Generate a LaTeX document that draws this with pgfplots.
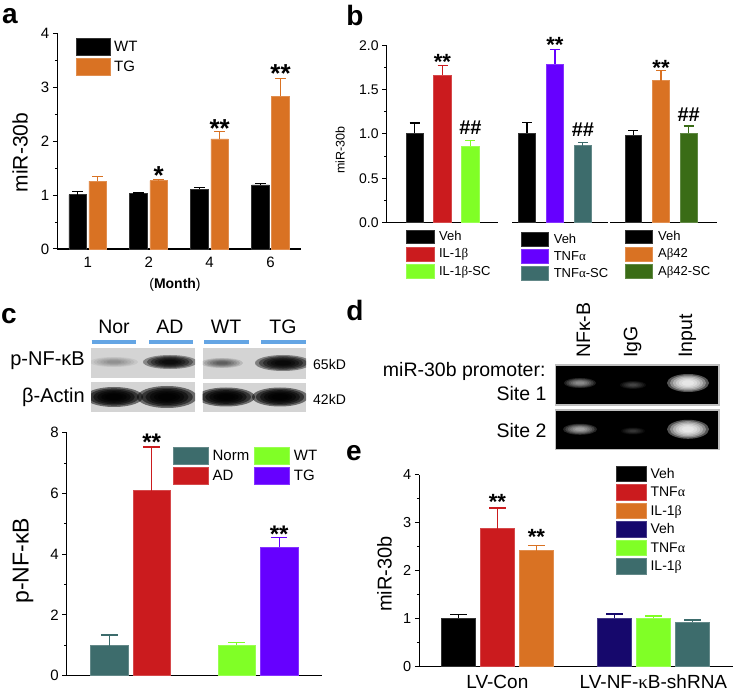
\documentclass[border=0pt]{standalone}
\usepackage{fontspec}
\setmainfont{Liberation Sans}
\newfontfamily\grk{Liberation Serif}
\usepackage{pgfplots}
\pgfplotsset{compat=1.18}

\definecolor{cOr}{RGB}{217,114,35}
\definecolor{cRed}{RGB}{203,27,30}
\definecolor{cLime}{RGB}{128,255,38}
\definecolor{cPur}{RGB}{102,0,255}
\definecolor{cTeal}{RGB}{61,108,108}
\definecolor{cDGr}{RGB}{58,108,22}
\definecolor{cNavy}{RGB}{22,8,108}
\definecolor{cBlue}{RGB}{100,165,228}
\definecolor{blotbg}{RGB}{212,212,212}

\newcommand{\fs}[1]{\fontsize{#1}{#1}\selectfont}
% blurred band: cx cy rx ry colour opacity
\newcommand{\band}[6]{%
  \foreach \k in {0,...,5}{\fill[#5, opacity=#6] (#1,#2) ellipse ({#3*(1-0.14*\k)} and {#4*(1-0.14*\k)});}}

\pgfplotsset{
  panel/.style={
    scale only axis, anchor=south west, clip=false,
    axis lines*=left, axis line style={line width=1.3pt, -},
    tick align=outside, major tick length=4.5pt, minor tick length=2.5pt,
    every tick/.style={line width=1pt, black},
    xtick style={draw=none},
    ymin=0, minor y tick num=1,
    /pgf/number format/assume math mode=true,
    legend cell align=left,
    legend style={draw=none, fill=none, inner sep=0pt, outer sep=0pt, anchor=north west,
       nodes={inner sep=0pt, outer sep=0pt}},
  },
  bars/.style n args={3}{ybar, bar width=#1, bar shift=0pt, fill=#2, draw=#2!80!white, line width=0.6pt,
     error bars/y dir=plus, error bars/y explicit,
     error bars/error bar style={line width=1.2pt, draw=#2},
     error bars/error mark options={rotate=90, line width=1.2pt, draw=#2, mark size=#3}},
}
\tikzset{
  st/.style={anchor=base, inner sep=0pt, font=\bfseries\fs{#1}},
}

\begin{document}
\begin{tikzpicture}[x=1pt,y=1pt]
\useasboundingbox (0,0) rectangle (734,694);

% ---------------- panel a ----------------
\begin{axis}[panel, at={(57.3pt,445pt)}, width=243.7pt, height=215.7pt,
  xmin=-0.5, xmax=3.5, ymax=4, ytick={0,1,2,3,4},
  xtick={0,1,2,3}, xticklabels={1,2,4,6},
  tick label style={font=\fs{15}},
  xlabel={(\textbf{Month})}, xlabel style={font=\fs{14}, at={(axis description cs:0.483,-0.167)}, anchor=center},
  ylabel={miR-30b}, ylabel style={font=\fs{21}, at={(axis description cs:-0.153,0.447)}, anchor=center},
  legend style={at={(axis description cs:0.077,0.977)}, font=\fs{15}, row sep=2pt,
     /tikz/every odd column/.style={column sep=3.5pt}},
  legend image code/.code={\fill[#1] (0pt,-8.5pt) rectangle (34pt,8.5pt);},
]
\addplot[bars={0.29}{black}{5.5pt}] coordinates {(-0.165,1.01) +- (0,0.05) (0.835,1.03) +- (0,0.01) (1.835,1.11) +- (0,0.03) (2.835,1.19) +- (0,0.02)};
\addlegendentry{WT}
\addplot[bars={0.29}{cOr}{5.5pt}] coordinates {(0.165,1.26) +- (0,0.08) (1.165,1.27) +- (0,0.02) (2.165,2.04) +- (0,0.14) (3.165,2.83) +- (0,0.33)};
\addlegendentry{TG}
\node[st=26] at (axis cs:1.165,1.19) {*};
\node[st=26] at (axis cs:2.165,2.07) {**};
\node[st=26] at (axis cs:3.165,3.08) {**};
\end{axis}

% ---------------- panel b ----------------
\begin{axis}[panel, at={(386.7pt,471.3pt)}, width=111.6pt, height=177.4pt,
  xmin=-1, xmax=3, ymax=2, ytick={0,0.5,1,1.5,2}, xtick=\empty,
  yticklabel style={font=\fs{14}, /pgf/number format/.cd, fixed, fixed zerofill, precision=1},
  ylabel={miR-30b}, ylabel style={font=\fs{12.5}, at={(axis description cs:-0.418,0.41)}, anchor=center},
  legend style={at={(axis description cs:0.173,-0.041)}, font=\fs{13}, row sep=3pt,
     /tikz/every odd column/.style={column sep=5pt}},
  legend image code/.code={\fill[#1] (0pt,-6.75pt) rectangle (27.5pt,6.75pt);},
]
\addplot[bars={0.625}{black}{5pt}] coordinates {(0,1.01) +- (0,0.115)};
\addlegendentry{Veh}
\addplot[bars={0.625}{cRed}{5pt}] coordinates {(1,1.665) +- (0,0.105)};
\addlegendentry{IL-1{\grk β}}
\addplot[bars={0.625}{cLime}{5pt}] coordinates {(2,0.865) +- (0,0.065)};
\addlegendentry{IL-1{\grk β}-SC}
\node[st=22] at (axis cs:1,1.728) {**};
\node[st=20] at (axis cs:2,0.99) {\#\#};
\end{axis}

\begin{axis}[panel, at={(512pt,471.3pt)}, width=96pt, height=177.4pt,
  xmin=-0.54, xmax=2.9, ymax=2, xtick=\empty, hide y axis,
  legend style={at={(axis description cs:0.0906,-0.054)}, font=\fs{13}, row sep=3pt,
     /tikz/every odd column/.style={column sep=5pt}},
  legend image code/.code={\fill[#1] (0pt,-6.75pt) rectangle (27.5pt,6.75pt);},
]
\addplot[bars={0.61}{black}{5pt}] coordinates {(0,1.01) +- (0,0.12)};
\addlegendentry{Veh}
\addplot[bars={0.61}{cPur}{5pt}] coordinates {(1,1.79) +- (0,0.165)};
\addlegendentry{TNF{\grk α}}
\addplot[bars={0.61}{cTeal}{5pt}] coordinates {(2,0.87) +- (0,0.035)};
\addlegendentry{TNF{\grk α}-SC}
\node[st=22] at (axis cs:1,1.92) {**};
\node[st=20] at (axis cs:2,0.97) {\#\#};
\end{axis}

\begin{axis}[panel, at={(610pt,471.3pt)}, width=107pt, height=177.4pt,
  xmin=-0.84, xmax=3.02, ymax=2, xtick=\empty, hide y axis,
  legend style={at={(axis description cs:0.14,-0.041)}, font=\fs{13}, row sep=3pt,
     /tikz/every odd column/.style={column sep=5pt}},
  legend image code/.code={\fill[#1] (0pt,-6.75pt) rectangle (27.5pt,6.75pt);},
]
\addplot[bars={0.6}{black}{5pt}] coordinates {(0,0.99) +- (0,0.05)};
\addlegendentry{Veh}
\addplot[bars={0.6}{cOr}{5pt}] coordinates {(1,1.60) +- (0,0.12)};
\addlegendentry{A{\grk β}42}
\addplot[bars={0.6}{cDGr}{5pt}] coordinates {(2,1.01) +- (0,0.08)};
\addlegendentry{A{\grk β}42-SC}
\node[st=22] at (axis cs:1,1.66) {**};
\node[st=20] at (axis cs:2,1.14) {\#\#};
\end{axis}

% ---------------- panel c ----------------
\begin{axis}[panel, at={(66.7pt,18.3pt)}, width=255pt, height=243pt,
  xmin=-0.5, xmax=1.5, ymax=8, ytick={0,2,4,6,8}, xtick=\empty,
  tick label style={font=\fs{15}},
  ylabel={p-NF-κB}, ylabel style={font=\fs{23}, at={(axis description cs:-0.171,0.473)}, anchor=center},
  legend columns=2, transpose legend,
  legend style={at={(axis description cs:0.417,0.942)}, font=\fs{15}, row sep=2pt,
     /tikz/every odd column/.style={column sep=4pt},
     /tikz/every even column/.style={column sep=5pt}},
  legend image code/.code={\fill[#1] (0pt,-8.7pt) rectangle (35pt,8.7pt);},
]
\addplot[bars={0.293}{cTeal}{8.3pt}] coordinates {(-0.1665,0.99) +- (0,0.35)};
\addlegendentry{Norm}
\addplot[bars={0.293}{cRed}{8.3pt}] coordinates {(0.1665,6.09) +- (0,1.44)};
\addlegendentry{AD}
\addplot[bars={0.293}{cLime}{8.3pt}] coordinates {(0.8335,1.00) +- (0,0.09)};
\addlegendentry{WT}
\addplot[bars={0.293}{cPur}{8.3pt}] coordinates {(1.1665,4.24) +- (0,0.30)};
\addlegendentry{TG}
\node[st=24] at (axis cs:0.1665,7.41) {**};
\node[st=24] at (axis cs:1.1665,4.40) {**};
\end{axis}

% ---------------- panel e ----------------
\begin{axis}[panel, at={(419.3pt,27.3pt)}, width=313.7pt, height=191.7pt,
  xmin=-0.5, xmax=1.51, ymax=4, ytick={0,1,2,3,4},
  xtick={0,1}, xticklabels={LV-Con, LV-NF-{\grk κ}B-shRNA},
  yticklabel style={font=\fs{14.5}}, xticklabel style={font=\fs{19}},
  ylabel={miR-30b}, ylabel style={font=\fs{20}, at={(axis description cs:-0.111,0.484)}, anchor=center},
  legend style={at={(axis description cs:0.626,1.047)}, font=\fs{14}, row sep=2.5pt,
     /tikz/every odd column/.style={column sep=4pt}},
  legend image code/.code={\fill[#1] (0pt,-7.7pt) rectangle (30.3pt,7.7pt);},
]
\addplot[bars={0.215}{black}{8.3pt}] coordinates {(-0.25,1.02) +- (0,0.07)};
\addlegendentry{Veh}
\addplot[bars={0.215}{cRed}{8.3pt}] coordinates {(0,2.88) +- (0,0.43)};
\addlegendentry{TNF{\grk α}}
\addplot[bars={0.215}{cOr}{8.3pt}] coordinates {(0.25,2.42) +- (0,0.11)};
\addlegendentry{IL-1{\grk β}}
\addplot[bars={0.215}{cNavy}{8.3pt}] coordinates {(0.75,1.01) +- (0,0.09)};
\addlegendentry{Veh}
\addplot[bars={0.215}{cLime}{8.3pt}] coordinates {(1,1.01) +- (0,0.05)};
\addlegendentry{TNF{\grk α}}
\addplot[bars={0.215}{cTeal}{8.3pt}] coordinates {(1.25,0.93) +- (0,0.045)};
\addlegendentry{IL-1{\grk β}}
\node[st=22] at (axis cs:0,3.28) {**};
\node[st=22] at (axis cs:0.25,2.55) {**};
\end{axis}

% ---------------- blots, gel, labels (image coordinates) ----------------
\begin{scope}[shift={(0,694)}, yscale=-1]
  % panel letters
  \node[font=\bfseries\fs{28}, inner sep=0pt] at (10,16) {a};
  \node[font=\bfseries\fs{28}, inner sep=0pt] at (355,15) {b};
  \node[font=\bfseries\fs{28}, inner sep=0pt] at (9,316) {c};
  \node[font=\bfseries\fs{28}, inner sep=0pt] at (355,310) {d};
  \node[font=\bfseries\fs{28}, inner sep=0pt] at (354,453) {e};

  % western blot (c)
  \foreach \lab/\xc in {Nor/114, AD/170, WT/226, TG/283}
    \node[font=\fs{19.5}, inner sep=0pt] at (\xc,326.7) {\lab};
  \foreach \xa/\xb in {91.7/136, 149.3/193.3, 204.3/248.7, 261.3/305.7}
    \draw[cBlue, line width=4pt] (\xa,341.7) -- (\xb,341.7);
  \fill[blotbg] (91,347.7) rectangle (195,377.7);
  \fill[blotbg] (202.7,348.3) rectangle (306,379);
  \fill[blotbg] (91,382.3) rectangle (195,412.3);
  \fill[blotbg] (202.7,382.7) rectangle (306,412.3);
  \begin{scope}
    \clip (91,347.7) rectangle (195,377.7);
    \band{114}{362}{24}{5}{black}{0.06}
    \band{170}{362}{27}{7}{black}{0.36}
  \end{scope}
  \begin{scope}
    \clip (202.7,348.3) rectangle (306,379);
    \band{222}{363}{21}{5}{black}{0.12}
    \band{283}{363}{28}{8}{black}{0.4}
  \end{scope}
  \begin{scope}
    \clip (91,382.3) rectangle (195,412.3);
    \band{114}{397}{29}{10}{black}{0.5}
    \band{167}{397}{30}{11}{black}{0.5}
  \end{scope}
  \begin{scope}
    \clip (202.7,382.7) rectangle (306,412.3);
    \band{226}{397}{29}{9.5}{black}{0.5}
    \band{280}{397}{28}{9.5}{black}{0.5}
  \end{scope}
  \node[font=\fs{20}, inner sep=0pt, anchor=east] at (85,361) {p-NF-κB};
  \node[font=\fs{20}, inner sep=0pt, anchor=east] at (85,397.7) {β-Actin};
  \node[font=\fs{14}, inner sep=0pt, anchor=west] at (313,364.3) {65kD};
  \node[font=\fs{14}, inner sep=0pt, anchor=west] at (313,399) {42kD};

  % ChIP gel (d)
  \node[font=\fs{19.5}, inner sep=0pt, rotate=90, anchor=west] at (583.5,358) {NFκ-B};
  \node[font=\fs{19.5}, inner sep=0pt, rotate=90, anchor=west] at (632.5,358) {IgG};
  \node[font=\fs{19.5}, inner sep=0pt, rotate=90, anchor=west] at (687.5,358) {Input};
  \node[font=\fs{19.5}, inner sep=0pt, anchor=east] at (545.7,371.7) {miR-30b promoter:};
  \node[font=\fs{19.5}, inner sep=0pt, anchor=east] at (546.7,393.3) {Site 1};
  \node[font=\fs{19.5}, inner sep=0pt, anchor=east] at (546.7,430.7) {Site 2};
  \fill[black] (555.7,365) rectangle (719,405);
  \fill[black] (555.7,410) rectangle (719,449.3);
  \begin{scope}
    \clip (555.7,365) rectangle (719,405);
    \band{580}{383}{16}{5}{white}{0.12}
    \band{633}{385}{13}{4}{white}{0.05}
    \band{688}{383}{21}{9}{white}{0.33}
  \end{scope}
  \begin{scope}
    \clip (555.7,410) rectangle (719,449.3);
    \band{580}{429.3}{17}{5.5}{white}{0.15}
    \band{633}{431}{12}{3.5}{white}{0.04}
    \band{688}{429.3}{21}{9.5}{white}{0.33}
  \end{scope}
  \draw[gray!50, line width=1.2pt] (555.7,365) rectangle (719,405);
  \draw[gray!50, line width=1.2pt] (555.7,410) rectangle (719,449.3);
\end{scope}
\end{tikzpicture}
\end{document}
